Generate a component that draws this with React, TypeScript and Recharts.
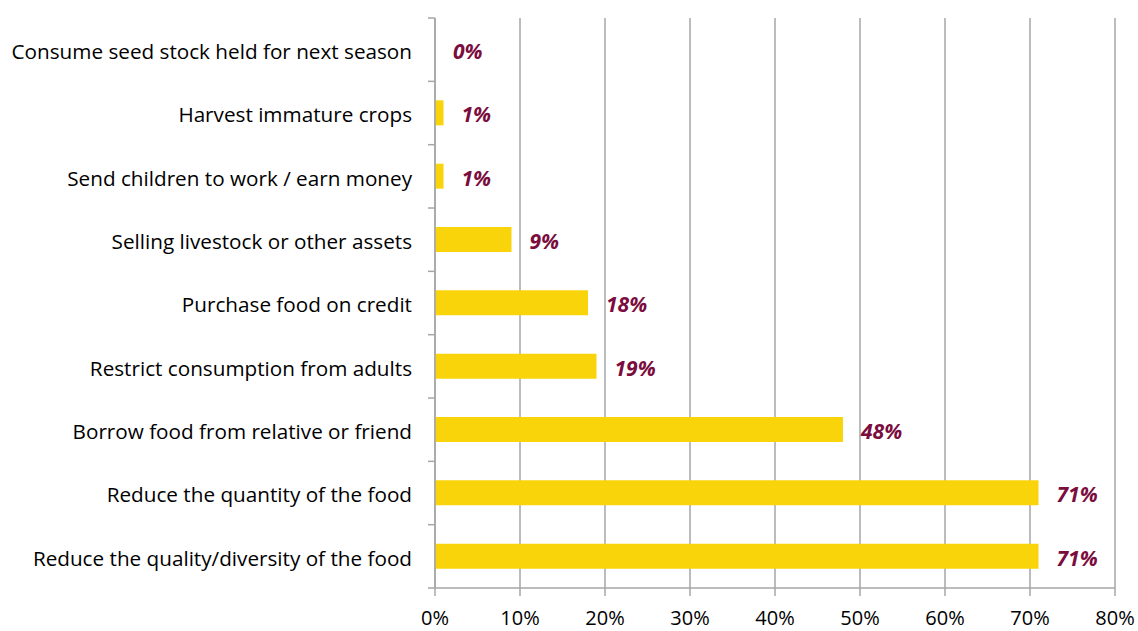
import React from 'react';
import { BarChart, Bar, XAxis, YAxis, CartesianGrid, LabelList } from 'recharts';

const categories = [
  'Consume seed stock held for next season',
  'Harvest immature crops',
  'Send children to work / earn money',
  'Selling livestock or other assets',
  'Purchase food on credit',
  'Restrict consumption from adults',
  'Borrow food from relative or friend',
  'Reduce the quantity of the food',
  'Reduce the quality/diversity of the food',
];
const shares = [0, 1, 1, 9, 18, 19, 48, 71, 71];
const xTicks = [0, 10, 20, 30, 40, 50, 60, 70, 80];

const data = categories.map((c, i) => ({ strategy: c, share: shares[i] }));

const FONT = '"Open Sans", sans-serif';
const GRID = '#a6a6a6';

const CategoryTick = (props: any) => {
  const { x, y, payload, index } = props;
  const half = 63.3 / 2;
  return (
    <g>
      <line x1={x + 1} x2={x + 8} y1={y - half} y2={y - half} stroke={GRID} strokeWidth={1.5} />
      {index === categories.length - 1 && (
        <line x1={x + 1} x2={x + 8} y1={y + half} y2={y + half} stroke={GRID} strokeWidth={1.5} />
      )}
      <text x={x - 15} y={y} dy="0.45em" textAnchor="end" fontSize={20.7} fill="#000" fontFamily={FONT}>
        {payload.value}
      </text>
    </g>
  );
};

const ValueLabel = (props: any) => {
  const { x, y, width, height, value } = props;
  return (
    <text
      x={x + width + 18}
      y={y + height / 2}
      dy="0.45em"
      fill="#7B0C3E"
      fontSize={21}
      fontWeight={700}
      fontStyle="italic"
      fontFamily={FONT}
    >
      {`${value}%`}
    </text>
  );
};

export default function App() {
  return (
    <div style={{ position: 'absolute', left: 0, top: 0, background: '#fff' }}>
      <BarChart
        width={1138}
        height={631}
        data={data}
        layout="vertical"
        margin={{ top: 18, right: 23, bottom: 0, left: 0 }}
        barCategoryGap={0}
      >
        <CartesianGrid horizontal={false} stroke={GRID} strokeWidth={1.5} />
        <XAxis
          type="number"
          domain={[0, 80]}
          ticks={xTicks}
          tickFormatter={(v) => `${v}%`}
          height={43}
          axisLine={{ stroke: GRID, strokeWidth: 1.5 }}
          tickLine={{ stroke: GRID, strokeWidth: 1.5 }}
          tickSize={8}
          tickMargin={15}
          tick={{ fontSize: 20, fill: '#000', fontFamily: FONT }}
          interval={0}
        />
        <YAxis
          type="category"
          dataKey="strategy"
          width={435}
          axisLine={{ stroke: GRID, strokeWidth: 1.5 }}
          tickLine={false}
          tick={<CategoryTick />}
          interval={0}
        />
        <Bar dataKey="share" fill="#FAD40B" barSize={25} minPointSize={0.01} isAnimationActive={false}>
          <LabelList dataKey="share" content={<ValueLabel />} />
        </Bar>
      </BarChart>
    </div>
  );
}
